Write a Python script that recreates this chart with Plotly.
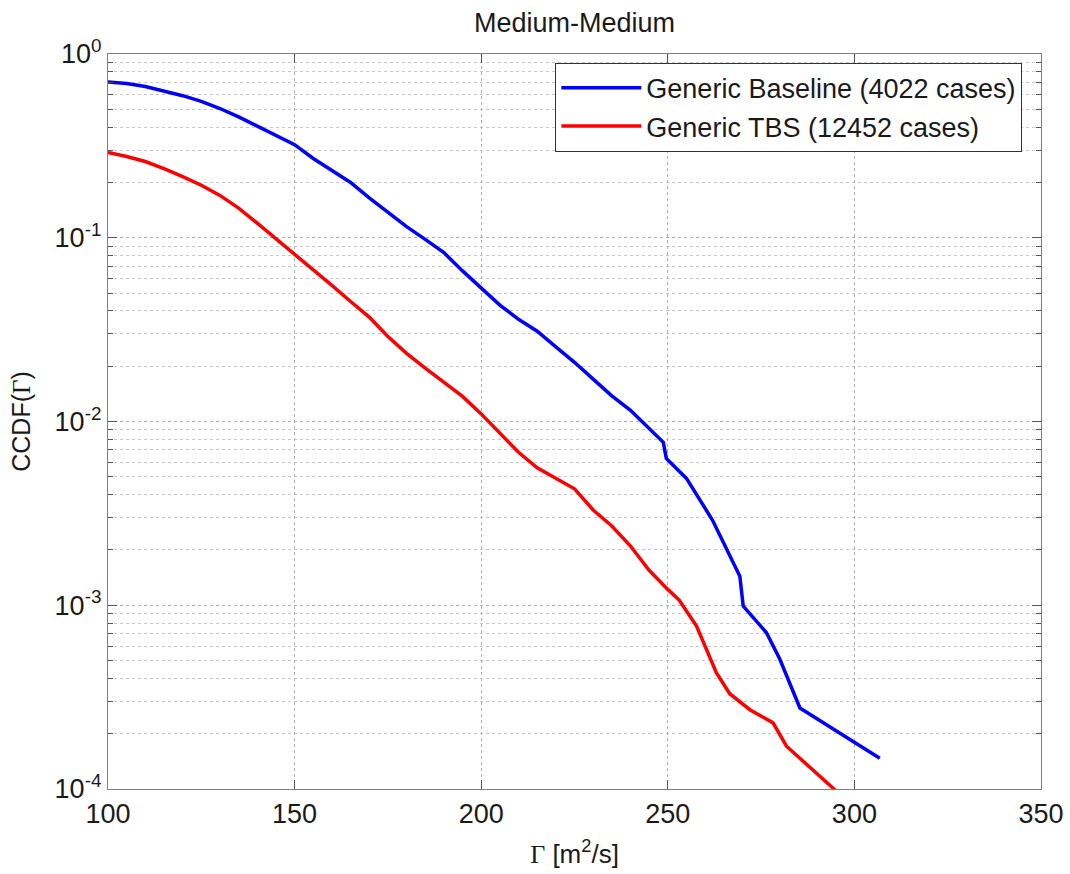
import plotly.graph_objects as go

# ---- data ----
baseline_x = [100, 105, 110, 115, 120, 125, 130, 135, 140, 145, 150, 155, 160, 165,
              170, 175, 180, 185, 190, 195, 200, 205, 210, 215, 220, 225, 230, 235,
              240, 243.4, 248.8, 249.6, 255, 262, 269.3, 270.2, 276.4, 280, 285.4,
              306.8]
baseline_y = [0.704, 0.69, 0.665, 0.63, 0.593, 0.552, 0.505, 0.455, 0.405, 0.36,
              0.321, 0.27, 0.232, 0.2, 0.165, 0.138, 0.115, 0.098, 0.083, 0.066,
              0.053, 0.043, 0.036, 0.031, 0.0255, 0.021, 0.017, 0.0138, 0.0115,
              0.0098, 0.0077, 0.0063, 0.0049, 0.0029, 0.00144, 0.00099, 0.00071,
              0.00051, 0.000276, 0.000147]

tbs_x = [100, 105, 110, 115, 120, 125, 130, 135, 140, 145, 150, 155, 160, 165, 170,
         175, 180, 185, 190, 195, 200, 205, 210, 215, 220, 225, 230, 235, 240, 245,
         250, 253, 257.7, 260, 263, 266.6, 272, 278.2, 281.8, 294.3, 296]
tbs_y = [0.291, 0.277, 0.26, 0.238, 0.215, 0.193, 0.17, 0.145, 0.12, 0.099, 0.081,
         0.067, 0.055, 0.045, 0.037, 0.029, 0.0235, 0.0195, 0.0163, 0.0137, 0.011,
         0.0087, 0.0068, 0.0056, 0.0049, 0.0043, 0.0033, 0.0027, 0.0021, 0.00155,
         0.00122, 0.00107, 0.00077, 0.0006, 0.00043, 0.00033, 0.00027, 0.000229,
         0.000171, 0.000101, 0.000094]

series_names = ["Generic Baseline (4022 cases)", "Generic TBS (12452 cases)"]
series_colors = ["#0000ff", "#ff0000"]

x_ticks = [100, 150, 200, 250, 300, 350]
y_ticks = [1e-4, 1e-3, 1e-2, 1e-1, 1]
y_ticktext = ["10<sup>-4</sup>", "10<sup>-3</sup>", "10<sup>-2</sup>",
              "10<sup>-1</sup>", "10<sup>0</sup>"]
y_minor = [m * 10 ** e for e in range(-4, 0) for m in range(2, 10)]

title_text = "Medium-Medium"
x_title = '<span style="font-family:Liberation Serif">Γ</span> [m<sup>2</sup>/s]'
y_title = 'CCDF(<span style="font-family:Liberation Serif">Γ</span>)'

FONT = "Liberation Sans, Arial, sans-serif"

fig = go.Figure()
fig.add_trace(go.Scatter(x=baseline_x, y=baseline_y, mode="lines",
                         name=series_names[0],
                         line=dict(color=series_colors[0], width=3.5)))
fig.add_trace(go.Scatter(x=tbs_x, y=tbs_y, mode="lines",
                         name=series_names[1],
                         line=dict(color=series_colors[1], width=3.5)))

axis_common = dict(
    showline=True, linecolor="#7f7f7f", linewidth=1.3, mirror="ticks",
    ticks="inside", ticklen=9, tickwidth=1, tickcolor="#555555",
    showgrid=True, gridcolor="#b0b0b0", griddash="dot", gridwidth=1,
    zeroline=False, tickfont=dict(family=FONT, size=27, color="#1a1a1a"),
)

fig.update_xaxes(
    range=[100, 350], tickmode="array", tickvals=x_ticks,
    ticktext=[str(v) for v in x_ticks],
    title=dict(text=x_title, font=dict(family=FONT, size=26, color="#1a1a1a"),
               standoff=17),
    **axis_common,
)
fig.update_yaxes(
    type="log", range=[-4, 0], tickmode="array", tickvals=y_ticks,
    ticktext=y_ticktext,
    minor=dict(tickmode="array", tickvals=y_minor, ticks="inside", ticklen=5,
               tickcolor="#555555", showgrid=True, gridcolor="#c8c8c8",
               griddash="dot", gridwidth=1),
    title=dict(text=y_title, font=dict(family=FONT, size=25, color="#1a1a1a"),
               standoff=16),
    **axis_common,
)

fig.update_layout(
    width=1070, height=874,
    margin=dict(l=107.5, r=28.5, t=54, b=85, autoexpand=False),
    paper_bgcolor="white", plot_bgcolor="white",
    title=dict(text=title_text, x=0.5, xref="paper", y=1 - 23 / 874,
               yref="container", yanchor="middle", xanchor="center",
               font=dict(family=FONT, size=27, color="#1a1a1a")),
    legend=dict(x=0.98, y=0.988, xanchor="right", yanchor="top",
                bgcolor="white", bordercolor="#333333", borderwidth=1,
                font=dict(family=FONT, size=27, color="#1a1a1a"),
                tracegroupgap=0, itemwidth=80),
    showlegend=True,
)

fig.write_html("out.html")
